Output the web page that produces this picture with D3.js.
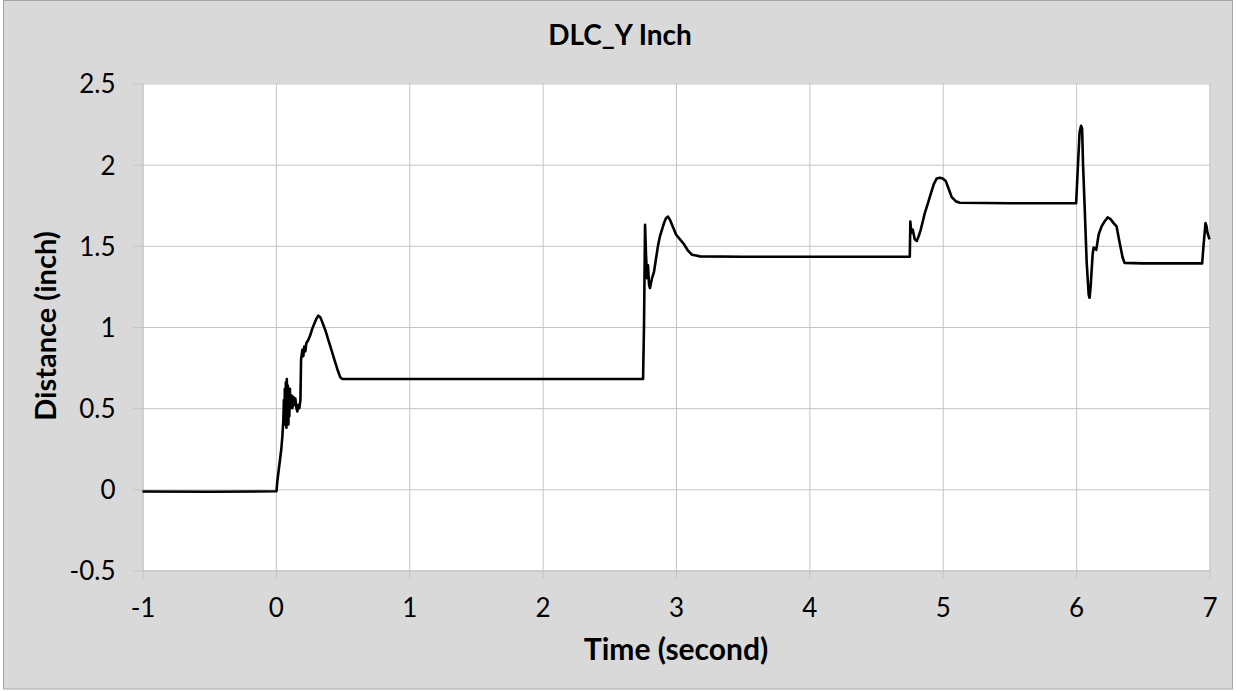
<!DOCTYPE html>
<html>
<head>
<meta charset="utf-8">
<script src="https://cdn.jsdelivr.net/npm/d3@7"></script>
<style>
  html, body { margin: 0; padding: 0; background: #ffffff; }
  svg { display: block; }
  text { font-family: Lato, "Open Sans", sans-serif; fill: #000; }
</style>
</head>
<body>
<svg id="chart" width="1236" height="691"></svg>
<script>
// ---- Data ----
const chartTitle = "DLC_Y Inch";
const xTitle = "Time (second)";
const yTitle = "Distance (inch)";
const xTicks = [-1, 0, 1, 2, 3, 4, 5, 6, 7];
const yTicks = [-0.5, 0, 0.5, 1, 1.5, 2, 2.5];

const timeValues = [
  -1.0, -0.5, 0.0, 0.005, 0.011, 0.026, 0.041, 0.049, 0.056,
  0.060, 0.064, 0.067, 0.071, 0.075, 0.079, 0.082, 0.086, 0.090, 0.094, 0.097, 0.101, 0.105, 0.109,
  0.116, 0.124, 0.131, 0.139, 0.146, 0.154, 0.161, 0.169, 0.176, 0.184,
  0.189, 0.199, 0.206, 0.213, 0.221, 0.228, 0.243, 0.258, 0.273, 0.288, 0.303, 0.318, 0.333,
  0.348, 0.371, 0.393, 0.416, 0.438, 0.461, 0.483, 0.498,
  1.0, 1.5, 2.0, 2.5, 2.753,
  2.760, 2.768, 2.775, 2.783, 2.790, 2.798, 2.805, 2.820, 2.835, 2.850, 2.865, 2.880, 2.895,
  2.910, 2.925, 2.940, 2.955, 2.970, 2.985, 3.000, 3.030, 3.060, 3.090, 3.120, 3.150, 3.180,
  3.5, 4.0, 4.5, 4.753,
  4.757, 4.764, 4.775, 4.790, 4.805, 4.820, 4.835, 4.850, 4.865, 4.888, 4.910, 4.933, 4.955,
  4.978, 5.000, 5.022, 5.045, 5.067, 5.097, 5.127,
  5.5, 6.0,
  6.011, 6.026, 6.037, 6.045, 6.052, 6.064, 6.079, 6.094, 6.101, 6.109, 6.124, 6.131, 6.151,
  6.169, 6.191, 6.213, 6.236, 6.258, 6.281, 6.303, 6.326, 6.348, 6.363,
  6.5, 6.8, 6.945,
  6.955, 6.970, 6.978, 6.985, 7.0
];
const distanceValues = [
  -0.013, -0.015, -0.012, -0.01, 0.05, 0.15, 0.25, 0.33, 0.43,
  0.55, 0.40, 0.62, 0.45, 0.66, 0.38, 0.68, 0.42, 0.64, 0.40, 0.60, 0.45, 0.62, 0.50,
  0.58, 0.50, 0.57, 0.52, 0.56, 0.50, 0.48, 0.52, 0.50, 0.55,
  0.80, 0.86, 0.82, 0.88, 0.85, 0.90, 0.92, 0.95, 0.99, 1.02, 1.05, 1.07, 1.06,
  1.03, 0.98, 0.92, 0.86, 0.80, 0.74, 0.69, 0.68,
  0.68, 0.68, 0.68, 0.68, 0.68,
  1.00, 1.63, 1.45, 1.30, 1.38, 1.26, 1.24, 1.30, 1.34, 1.42, 1.50, 1.56, 1.60,
  1.64, 1.67, 1.68, 1.66, 1.63, 1.60, 1.57, 1.54, 1.51, 1.47, 1.445, 1.44, 1.435,
  1.433, 1.433, 1.433, 1.433,
  1.65, 1.58, 1.60, 1.54, 1.53, 1.56, 1.60, 1.65, 1.70, 1.76, 1.82, 1.88, 1.915,
  1.92, 1.915, 1.90, 1.85, 1.80, 1.775, 1.765,
  1.762, 1.762,
  1.95, 2.20, 2.24, 2.22, 2.00, 1.74, 1.40, 1.20, 1.18, 1.25, 1.45, 1.49, 1.475,
  1.57, 1.62, 1.65, 1.675, 1.665, 1.64, 1.62, 1.52, 1.43, 1.395,
  1.392, 1.392, 1.392,
  1.50, 1.64, 1.62, 1.58, 1.54
];

// ---- Layout ----
const plot = { left: 142.5, right: 1209.5, top: 83.5, bottom: 570.5 };

const svg = d3.select("#chart");

// outer chart area
svg.append("rect")
  .attr("x", 3.5).attr("y", 0.5)
  .attr("width", 1229).attr("height", 688.5)
  .attr("fill", "#d9d9d9")
  .attr("stroke", "#a6a6a6").attr("stroke-width", 1);

// plot area
svg.append("rect")
  .attr("x", plot.left).attr("y", plot.top)
  .attr("width", plot.right - plot.left).attr("height", plot.bottom - plot.top)
  .attr("fill", "#ffffff");

const x = d3.scaleLinear().domain([-1, 7]).range([plot.left, plot.right]);
const y = d3.scaleLinear().domain([-0.5, 2.5]).range([plot.bottom, plot.top]);

const gridColor = "#c4c4c4";
const fmt = d => d < 0 ? "-" + Math.abs(d) : String(d);

// vertical gridlines + x axis ticks
const xAxis = d3.axisBottom(x).tickValues(xTicks)
  .tickSizeInner(-(plot.bottom - plot.top)).tickSizeOuter(0).tickPadding(0);
const gx = svg.append("g").attr("transform", `translate(0,${plot.bottom})`).call(xAxis);
gx.select(".domain").attr("stroke", gridColor);
gx.selectAll(".tick line").attr("stroke", gridColor).attr("y1", 8);
gx.selectAll(".tick text")
  .attr("y", 46).attr("dy", 0)
  .style("font-size", "26px").style("font-family", "Lato, sans-serif")
  .text(fmt);

// horizontal gridlines + y axis ticks
const yAxis = d3.axisLeft(y).tickValues(yTicks)
  .tickSizeInner(-(plot.right - plot.left)).tickSizeOuter(0).tickPadding(0);
const gy = svg.append("g").attr("transform", `translate(${plot.left},0)`).call(yAxis);
gy.select(".domain").attr("stroke", gridColor);
gy.selectAll(".tick line").attr("stroke", gridColor).attr("x1", -9);
gy.selectAll(".tick text")
  .attr("x", -27).attr("dy", "0.36em")
  .style("font-size", "26px").style("font-family", "Lato, sans-serif")
  .text(fmt);

// series line
const points = timeValues.map((t, i) => [t, distanceValues[i]]);
const line = d3.line().x(d => x(d[0])).y(d => y(d[1]));
svg.append("path")
  .datum(points)
  .attr("d", line)
  .attr("fill", "none")
  .attr("stroke", "#000")
  .attr("stroke-width", 2.6)
  .attr("stroke-linejoin", "round");

// titles
svg.append("text")
  .attr("x", 620).attr("y", 45)
  .attr("text-anchor", "middle")
  .style("font-size", "28px").style("font-weight", "bold")
  .text(chartTitle);

svg.append("text")
  .attr("x", 676).attr("y", 660)
  .attr("text-anchor", "middle")
  .style("font-size", "30px").style("font-weight", "bold")
  .text(xTitle);

svg.append("text")
  .attr("transform", `translate(56,326) rotate(-90)`)
  .attr("text-anchor", "middle")
  .style("font-size", "29px").style("font-weight", "bold")
  .text(yTitle);
</script>
</body>
</html>
